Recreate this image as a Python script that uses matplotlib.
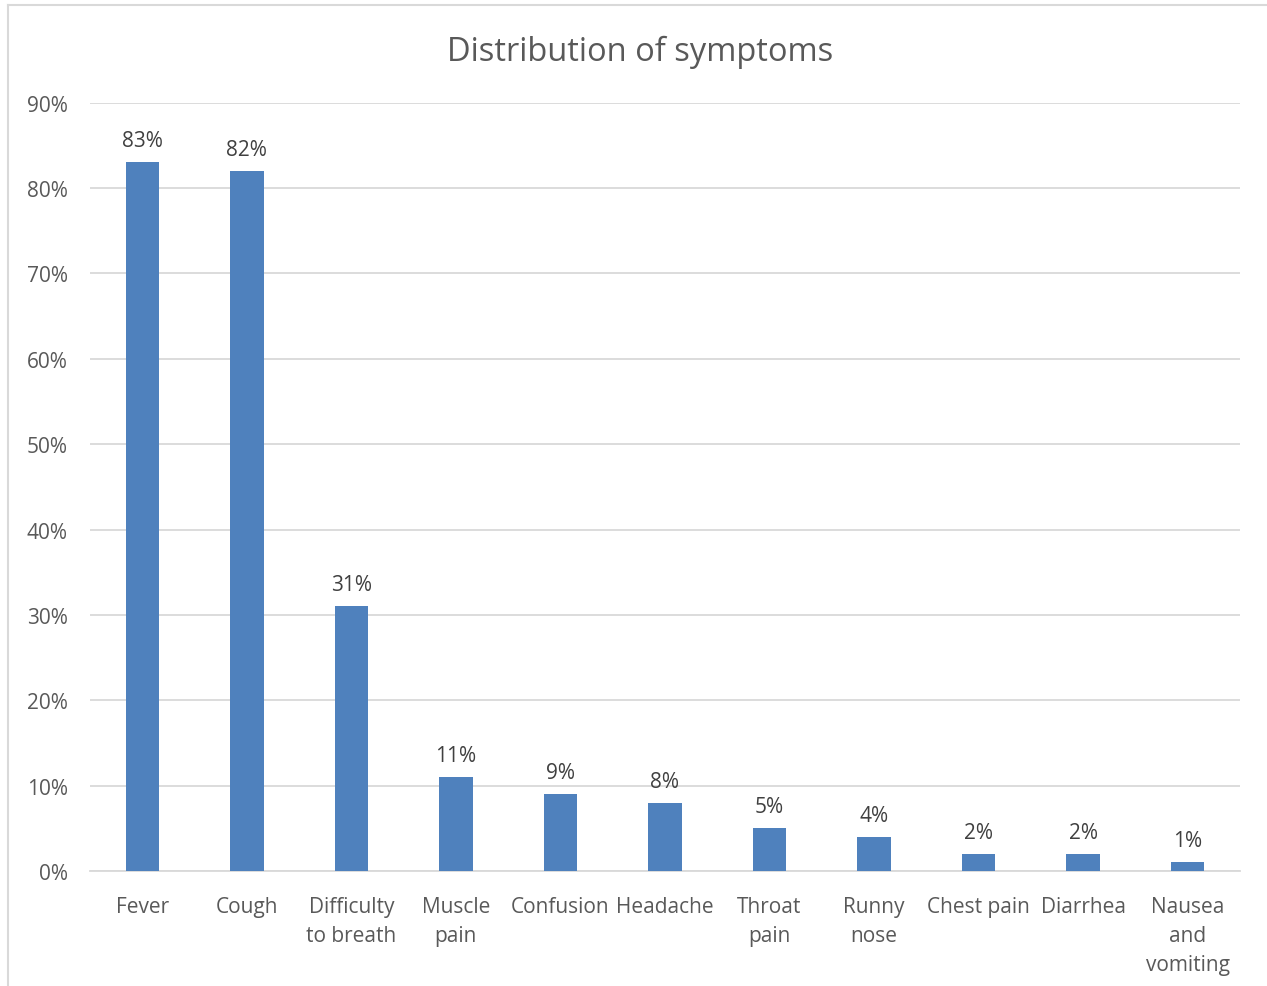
import matplotlib.pyplot as plt
from matplotlib.lines import Line2D
from matplotlib.ticker import FuncFormatter, MultipleLocator

symptoms = ["Fever", "Cough", "Difficulty\nto breath", "Muscle\npain", "Confusion",
            "Headache", "Throat\npain", "Runny\nnose", "Chest pain", "Diarrhea",
            "Nausea\nand\nvomiting"]
share = [83, 82, 31, 11, 9, 8, 5, 4, 2, 2, 1]

TEXT = "#595959"
BAR = "#4F81BD"
GRID = "#D9D9D9"

plt.rcParams["font.family"] = ["Open Sans", "DejaVu Sans"]

fig = plt.figure(figsize=(12.67, 9.87), dpi=100)
ax = fig.add_axes([0.071, 0.1165, 0.9077, 0.7785])

x = range(len(symptoms))
bars = ax.bar(x, share, width=0.32, color=BAR, zorder=3)
for rect, v in zip(bars, share):
    ax.annotate(f"{v}%", (rect.get_x() + rect.get_width() / 2, v),
                xytext=(0, 8), textcoords="offset points",
                ha="center", va="bottom", fontsize=15, color="#404040")

ax.set_xlim(-0.5, len(symptoms) - 0.5)
ax.set_ylim(0, 90)
ax.yaxis.set_major_locator(MultipleLocator(10))
ax.yaxis.set_major_formatter(FuncFormatter(lambda v, _: f"{v:.0f}%"))
ax.grid(axis="y", color=GRID, linewidth=1.3, zorder=0)
ax.set_xticks(list(x))
ax.set_xticklabels(symptoms, linespacing=1.5, va="top")
ax.tick_params(axis="both", length=0, labelsize=15, colors=TEXT)
ax.tick_params(axis="x", pad=18)
ax.tick_params(axis="y", pad=16)
for side in ("top", "right", "left"):
    ax.spines[side].set_visible(False)
ax.spines["bottom"].set_color(GRID)
ax.spines["bottom"].set_linewidth(1.3)

fig.text(0.505, 0.947, "Distribution of symptoms", ha="center", va="center",
         fontsize=23.5, color=TEXT)

# outer chart frame (top and left edges visible)
fig.add_artist(Line2D([8 / 1267, 1.0], [1 - 6 / 987] * 2, transform=fig.transFigure,
                      color="#D9D9D9", linewidth=1.5))
fig.add_artist(Line2D([8 / 1267] * 2, [0.0, 1 - 6 / 987], transform=fig.transFigure,
                      color="#D9D9D9", linewidth=1.5))

fig.savefig("out.png", dpi=100)
